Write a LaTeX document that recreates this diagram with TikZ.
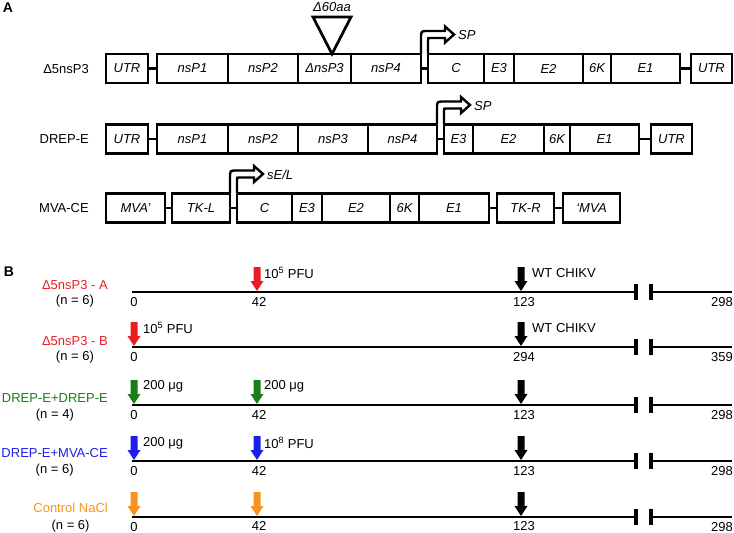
\documentclass[tikz,border=0pt]{standalone}
\usepackage{fontspec}
\setmainfont{Liberation Sans}
\definecolor{cred}{RGB}{232,30,37}
\definecolor{cgreen}{RGB}{25,125,25}
\definecolor{cblue}{RGB}{30,30,230}
\definecolor{corange}{RGB}{247,148,29}
\newcommand\segbox[6]{\node[segbox, minimum width={#3-#2}] (#1) at ({(#2+#3)/2},#4) {#6#5};}
\newcommand\promoter[2]{%
  \begin{scope}[shift={(#1,#2)}]
    \draw[line width=2.4pt, fill=white, line join=miter]
      (0,0) -- (0,-16) .. controls (0,-23) .. (7,-23) -- (24,-23) -- (24,-27.5)
      -- (33,-19.5) -- (24,-11.5) -- (24,-16) -- (9,-16) .. controls (7,-16) .. (7,-14) -- (7,0);
  \end{scope}}
\newcommand\darrow[3]{\fill[#3] (#1-3.5,#2-24) -- (#1+3.5,#2-24) -- (#1+3.5,#2-10) -- (#1+6.5,#2-10)
  -- (#1,#2) -- (#1-6.5,#2-10) -- (#1-3.5,#2-10) -- cycle;}
\newcommand\timeline[2]{%
  \draw[tl] (132,#1) -- (636,#1);
  \draw[brk] (636,#1-8) -- (636,#1+8);
  \draw[brk] (651,#1-8) -- (651,#1+8);
  \draw[tl] (651,#1) -- (732,#1);
  \node[num] (t#2a) at (134,#1+10) {0};
  \node[num, anchor=east] (t#2e) at (733,#1+10) {\ifnum#2=2 359\else 298\fi};}
\begin{document}
\begin{tikzpicture}[x=1pt,y=-1pt, font=\fontsize{13}{15}\selectfont,
  segbox/.style={draw, line width=2.7pt, minimum height=29pt, inner sep=0pt, font=\fontsize{13}{15}\selectfont\itshape},
  link/.style={line width=2.7pt},
  lbl/.style={anchor=east, inner sep=0pt},
  tl/.style={line width=2.2pt},
  brk/.style={line width=3.2pt},
  num/.style={inner sep=0pt},
  note/.style={anchor=west, inner sep=0pt},
  it/.style={inner sep=0pt, font=\fontsize{13}{15}\selectfont\itshape}]
\useasboundingbox (0,0) rectangle (734,533);

% ---------- A ----------
\node[inner sep=0pt, font=\fontsize{14}{16}\selectfont\bfseries] (labA) at (8,8) {A};

\node[lbl] (r1l) at (89,69) {Δ5nsP3};
\segbox{r1u}{106}{148}{68.5}{UTR}{}
\segbox{r1a}{157}{228}{68.5}{nsP1}{}
\segbox{r1b}{228}{298}{68.5}{nsP2}{}
\segbox{r1c}{298}{351}{68.5}{ΔnsP3}{}
\segbox{r1d}{351}{421}{68.5}{nsP4}{}
\segbox{r1e}{428}{484}{68.5}{C}{}
\segbox{r1f}{484}{514}{68.5}{E3}{}
\segbox{r1g}{514}{583}{68.5}{E2}{}
\segbox{r1h}{583}{611}{68.5}{6K}{}
\segbox{r1i}{611}{680}{68.5}{E1}{}
\segbox{r1j}{691}{732}{68.5}{UTR}{}
\draw[link] (r1u.east) -- (r1a.west);
\draw[link] (r1d.east) -- (r1e.west);
\draw[link] (r1i.east) -- (r1j.west);
\draw[line width=2.7pt, line join=miter] (313,17) -- (351,17) -- (332,54) -- cycle;
\node[it] (del) at (332,7) {Δ60aa};
\promoter{421}{54}
\node[it, anchor=west] (sp1) at (458,35) {SP};

\node[lbl] (r2l) at (89,139) {DREP-E};
\segbox{r2u}{106}{148}{139}{UTR}{}
\segbox{r2a}{157}{228}{139}{nsP1}{}
\segbox{r2b}{228}{298}{139}{nsP2}{}
\segbox{r2c}{298}{368}{139}{nsP3}{}
\segbox{r2d}{368}{437}{139}{nsP4}{}
\segbox{r2f}{444}{473}{139}{E3}{}
\segbox{r2g}{473}{544}{139}{E2}{}
\segbox{r2h}{544}{570}{139}{6K}{}
\segbox{r2i}{570}{639}{139}{E1}{}
\segbox{r2j}{651}{692}{139}{UTR}{}
\draw[link] (r2u.east) -- (r2a.west);
\draw[link] (r2d.east) -- (r2f.west);
\draw[link] (r2i.east) -- (r2j.west);
\promoter{437}{124.5}
\node[it, anchor=west] (sp2) at (474,106) {SP};

\node[lbl] (r3l) at (89,208) {MVA-CE};
\segbox{r3a}{106}{165}{208}{MVA’}{}
\segbox{r3b}{172}{230}{208}{TK-L}{}
\segbox{r3c}{237}{292}{208}{C}{}
\segbox{r3d}{292}{322}{208}{E3}{}
\segbox{r3e}{322}{390}{208}{E2}{}
\segbox{r3f}{390}{419}{208}{6K}{}
\segbox{r3g}{419}{489}{208}{E1}{}
\segbox{r3h}{497}{554}{208}{TK-R}{}
\segbox{r3i}{563}{620}{208}{‘MVA}{}
\draw[link] (r3a.east) -- (r3b.west);
\draw[link] (r3b.east) -- (r3c.west);
\draw[link] (r3g.east) -- (r3h.west);
\draw[link] (r3h.east) -- (r3i.west);
\promoter{230}{193.5}
\node[it, anchor=west] (sp3) at (267,175) {sE/L};

% ---------- B ----------
\node[inner sep=0pt, font=\fontsize{14}{16}\selectfont\bfseries] (labB) at (9,272) {B};

% row 1
\node[lbl, text=cred] (gA) at (108,285) {Δ5nsP3 - A};
\node[num] (nA) at (gA.center) [yshift=-16pt] {(n = 6)};
\timeline{292}{1}
\node[num] (t1b) at (259,302) {42};
\node[num] (t1c) at (524,302) {123};
\darrow{257}{291}{cred}
\darrow{521}{291}{black}
\node[note] (a1) at (264,273) {10\textsuperscript{5} PFU};
\node[note] (b1) at (532,273) {WT CHIKV};

% row 2
\node[lbl, text=cred] (gB) at (108,341) {Δ5nsP3 - B};
\node[num] (nB) at (gB.center) [yshift=-16pt] {(n = 6)};
\timeline{347}{2}
\node[num] (t2c) at (524,357) {294};
\darrow{134}{346}{cred}
\darrow{521}{346}{black}
\node[note] (a2) at (143,328) {10\textsuperscript{5} PFU};
\node[note] (b2) at (532,328) {WT CHIKV};

% row 3
\node[lbl, text=cgreen] (gC) at (108,398) {DREP-E+DREP-E};
\node[num] (nC) at (gC.center) [yshift=-17pt] {(n = 4)};
\timeline{405}{3}
\node[num] (t3b) at (259,415) {42};
\node[num] (t3c) at (524,415) {123};
\darrow{134}{404}{cgreen}
\darrow{257}{404}{cgreen}
\darrow{521}{404}{black}
\node[note] (a3) at (143,386) {200 μg};
\node[note] (b3) at (264,386) {200 μg};

% row 4
\node[lbl, text=cblue] (gD) at (108,453) {DREP-E+MVA-CE};
\node[num] (nD) at (gD.center) [yshift=-17pt] {(n = 6)};
\timeline{461}{4}
\node[num] (t4b) at (259,471) {42};
\node[num] (t4c) at (524,471) {123};
\darrow{134}{460}{cblue}
\darrow{257}{460}{cblue}
\darrow{521}{460}{black}
\node[note] (a4) at (143,443) {200 μg};
\node[note] (b4) at (264,443) {10\textsuperscript{8} PFU};

% row 5
\node[lbl, text=corange] (gE) at (108,508) {Control NaCl};
\node[num] (nE) at (gE.center) [yshift=-18pt] {(n = 6)};
\timeline{517}{5}
\node[num] (t5b) at (259,526) {42};
\node[num] (t5c) at (524,526) {123};
\darrow{134}{516}{corange}
\darrow{257}{516}{corange}
\darrow{521}{516}{black}
\end{tikzpicture}
\end{document}
